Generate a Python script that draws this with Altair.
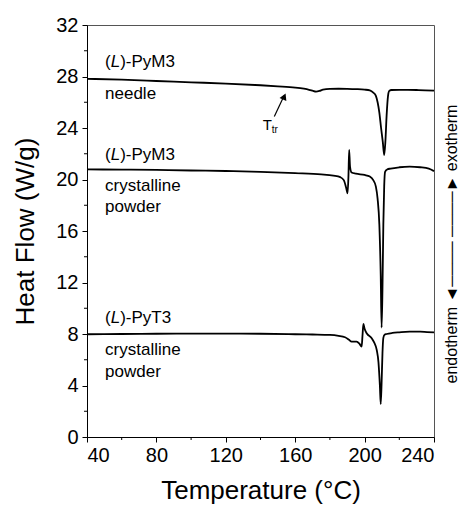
import altair as alt
import pandas as pd

# ---- data ----
needle_T = [40, 60, 80, 100, 120, 140, 150, 160, 165, 168, 170, 172, 174, 176, 180, 185, 190, 195, 200,
            203, 205, 206.5, 207.5, 208.5, 209.5, 210.5, 211.3, 212, 212.7, 213.5, 214.2, 215.5, 220, 225,
            230, 235, 240]
needle_v = [27.82, 27.75, 27.65, 27.55, 27.45, 27.32, 27.24, 27.14, 27.05, 26.97, 26.9, 26.83, 26.88,
            26.98, 27.04, 27.05, 27.04, 27.02, 26.98, 26.92, 26.75, 26.5, 26.0, 25.2, 24.0, 22.9, 21.9,
            23.0, 25.0, 26.5, 26.88, 26.95, 26.96, 26.96, 26.95, 26.93, 26.9]

pym3_T = [40, 60, 80, 100, 120, 140, 160, 175, 182, 186, 188, 189.3, 190.2, 190.7, 191.1, 191.6, 192.5,
          195, 200, 203, 205, 206.5, 207.5, 208.5, 209.3, 209.8, 210.3, 210.8, 211.3, 211.8, 213, 215,
          220, 226, 232, 237, 240]
pym3_v = [20.78, 20.77, 20.74, 20.7, 20.66, 20.6, 20.5, 20.4, 20.3, 20.18, 19.95, 19.4, 18.93, 20.3,
          22.3, 21.0, 20.54, 20.45, 20.35, 20.23, 19.95, 19.45, 18.5, 16.5, 12.5, 8.5, 11.5, 16.5, 19.5,
          20.6, 20.78, 20.85, 20.95, 21.0, 20.95, 20.85, 20.65]

pyt3_T = [40, 60, 80, 100, 120, 140, 160, 170, 180, 185, 188.7, 191, 192.5, 195.4, 197, 198.3, 198.8,
          199.3, 200, 201.2, 204.1, 205.5, 207, 208, 208.8, 209.3, 209.8, 210.3, 210.8, 211.5, 212.7,
          216, 220, 226, 232, 236, 240]
pyt3_v = [7.98, 8.0, 8.02, 8.03, 8.03, 8.02, 7.98, 7.96, 7.93, 7.86, 7.75, 7.55, 7.41, 7.41, 7.25, 7.02,
          7.9, 8.78, 8.4, 8.06, 7.67, 7.35, 6.76, 5.8, 4.0, 2.56, 4.2, 6.5, 7.7, 7.95, 8.0, 8.08, 8.13,
          8.18, 8.18, 8.15, 8.13]

x_major = [40, 80, 120, 160, 200, 240]
x_minor = [60, 100, 140, 180, 220]
y_major = [0, 4, 8, 12, 16, 20, 24, 28, 32]
y_minor = [2, 6, 10, 14, 18, 22, 26, 30]

head_T = [50.4, 50.4, 50.4]
head_v = [28.77, 21.52, 8.83]
head_rest = [")-PyM3", ")-PyM3", ")-PyT3"]

sub_T = [50.4, 50.4, 50.4, 50.4, 50.4]
sub_v = [26.24, 19.14, 17.5, 6.37, 4.69]
sub_text = ["needle", "crystalline", "powder", "crystalline", "powder"]

FONT = "Liberation Sans"
W, H = 347, 412

rows = []
for name, T, v in [("needle", needle_T, needle_v), ("pym3", pym3_T, pym3_v), ("pyt3", pyt3_T, pyt3_v)]:
    for t, val in zip(T, v):
        rows.append({"T": t, "v": val, "s": name})
curves = pd.DataFrame(rows)

axcommon = dict(grid=False, domainColor="black", domainWidth=1, tickColor="black", tickWidth=1,
                tickSize=5, labelFont=FONT, labelFontSize=20, labelColor="black", titleFont=FONT,
                titleColor="black", titleFontWeight="normal", titleFontSize=26, format="d")
xs = alt.Scale(domain=[40, 240], nice=False, zero=False)
ys = alt.Scale(domain=[0, 32], nice=False, zero=False)
xax = alt.Axis(values=x_major, title="Temperature (°C)", titlePadding=12, labelPadding=3, **axcommon)
yax = alt.Axis(values=y_major, title="Heat Flow (W/g)", titlePadding=17, labelPadding=4, **axcommon)
X = alt.X("T:Q", scale=xs, axis=xax)
Y = alt.Y("v:Q", scale=ys, axis=yax)

lines = alt.Chart(curves).mark_line(color="black", strokeWidth=1.8, interpolate="monotone").encode(
    x=X, y=Y, detail="s:N")

xminor = alt.Chart(pd.DataFrame({"T": x_minor})).mark_rule(color="black", strokeWidth=1).encode(
    x=X, y=alt.value(H), y2=alt.value(H + 3))
yminor = alt.Chart(pd.DataFrame({"v": y_minor})).mark_rule(color="black", strokeWidth=1).encode(
    y=Y, x=alt.value(-3), x2=alt.value(0))

heads = pd.DataFrame({"T": head_T, "v": head_v, "rest": head_rest})
tbase = dict(align="left", baseline="alphabetic", font=FONT, fontSize=17, color="black")
h1 = alt.Chart(heads).mark_text(text="(", **tbase).encode(x=X, y=Y)
h2 = alt.Chart(heads).mark_text(text="L", fontStyle="italic", dx=5.7, **tbase).encode(x=X, y=Y)
h3 = alt.Chart(heads).mark_text(dx=15.1, **tbase).encode(x=X, y=Y, text="rest:N")
subs = alt.Chart(pd.DataFrame({"T": sub_T, "v": sub_v, "t": sub_text})).mark_text(**tbase).encode(
    x=X, y=Y, text="t:N")

# T_tr annotation with arrow
ttr_T = [141.3]
ttr_v = [23.85]
arrow = pd.DataFrame({"T": [147.96], "v": [24.89], "T2": [153.6], "v2": [26.5]})
arrow_head = pd.DataFrame({"T": [153.7], "v": [26.45]})
ttr = alt.Chart(pd.DataFrame({"T": ttr_T, "v": ttr_v})).mark_text(
    text="T", align="left", baseline="alphabetic", font=FONT, fontSize=15, color="black").encode(x=X, y=Y)
ttr_sub = alt.Chart(pd.DataFrame({"T": ttr_T, "v": ttr_v})).mark_text(
    text="tr", align="left", baseline="alphabetic", font=FONT, fontSize=10, color="black",
    dx=9, dy=3).encode(x=X, y=Y)
arr_line = alt.Chart(arrow).mark_rule(color="black", strokeWidth=1.2).encode(
    x=X, y=Y, x2="T2:Q", y2="v2:Q")
arr_head = alt.Chart(arrow_head).mark_point(shape="triangle-up", filled=True, color="black",
                                            size=55, angle=24, opacity=1).encode(x=X, y=Y)

side = alt.Chart(pd.DataFrame({"t": ["endotherm ◄──── ────► exotherm"]})).mark_text(
    angle=270, align="center", baseline="middle", font=FONT, fontSize=16, color="black").encode(
    x=alt.value(W + 18), y=alt.value(219), text="t:N")

chart = alt.layer(lines, xminor, yminor, h1, h2, h3, subs, ttr, ttr_sub, arr_line, arr_head, side).properties(
    width=W, height=H,
    autosize=alt.AutoSizeParams(type="none"),
    padding={"left": 87, "top": 25, "right": 35, "bottom": 73},
    background="white",
).configure_axis(
    grid=False,
).configure_view(stroke="#555", strokeWidth=1)

chart.save("out.html", embed_options={"renderer": "svg", "actions": False})
